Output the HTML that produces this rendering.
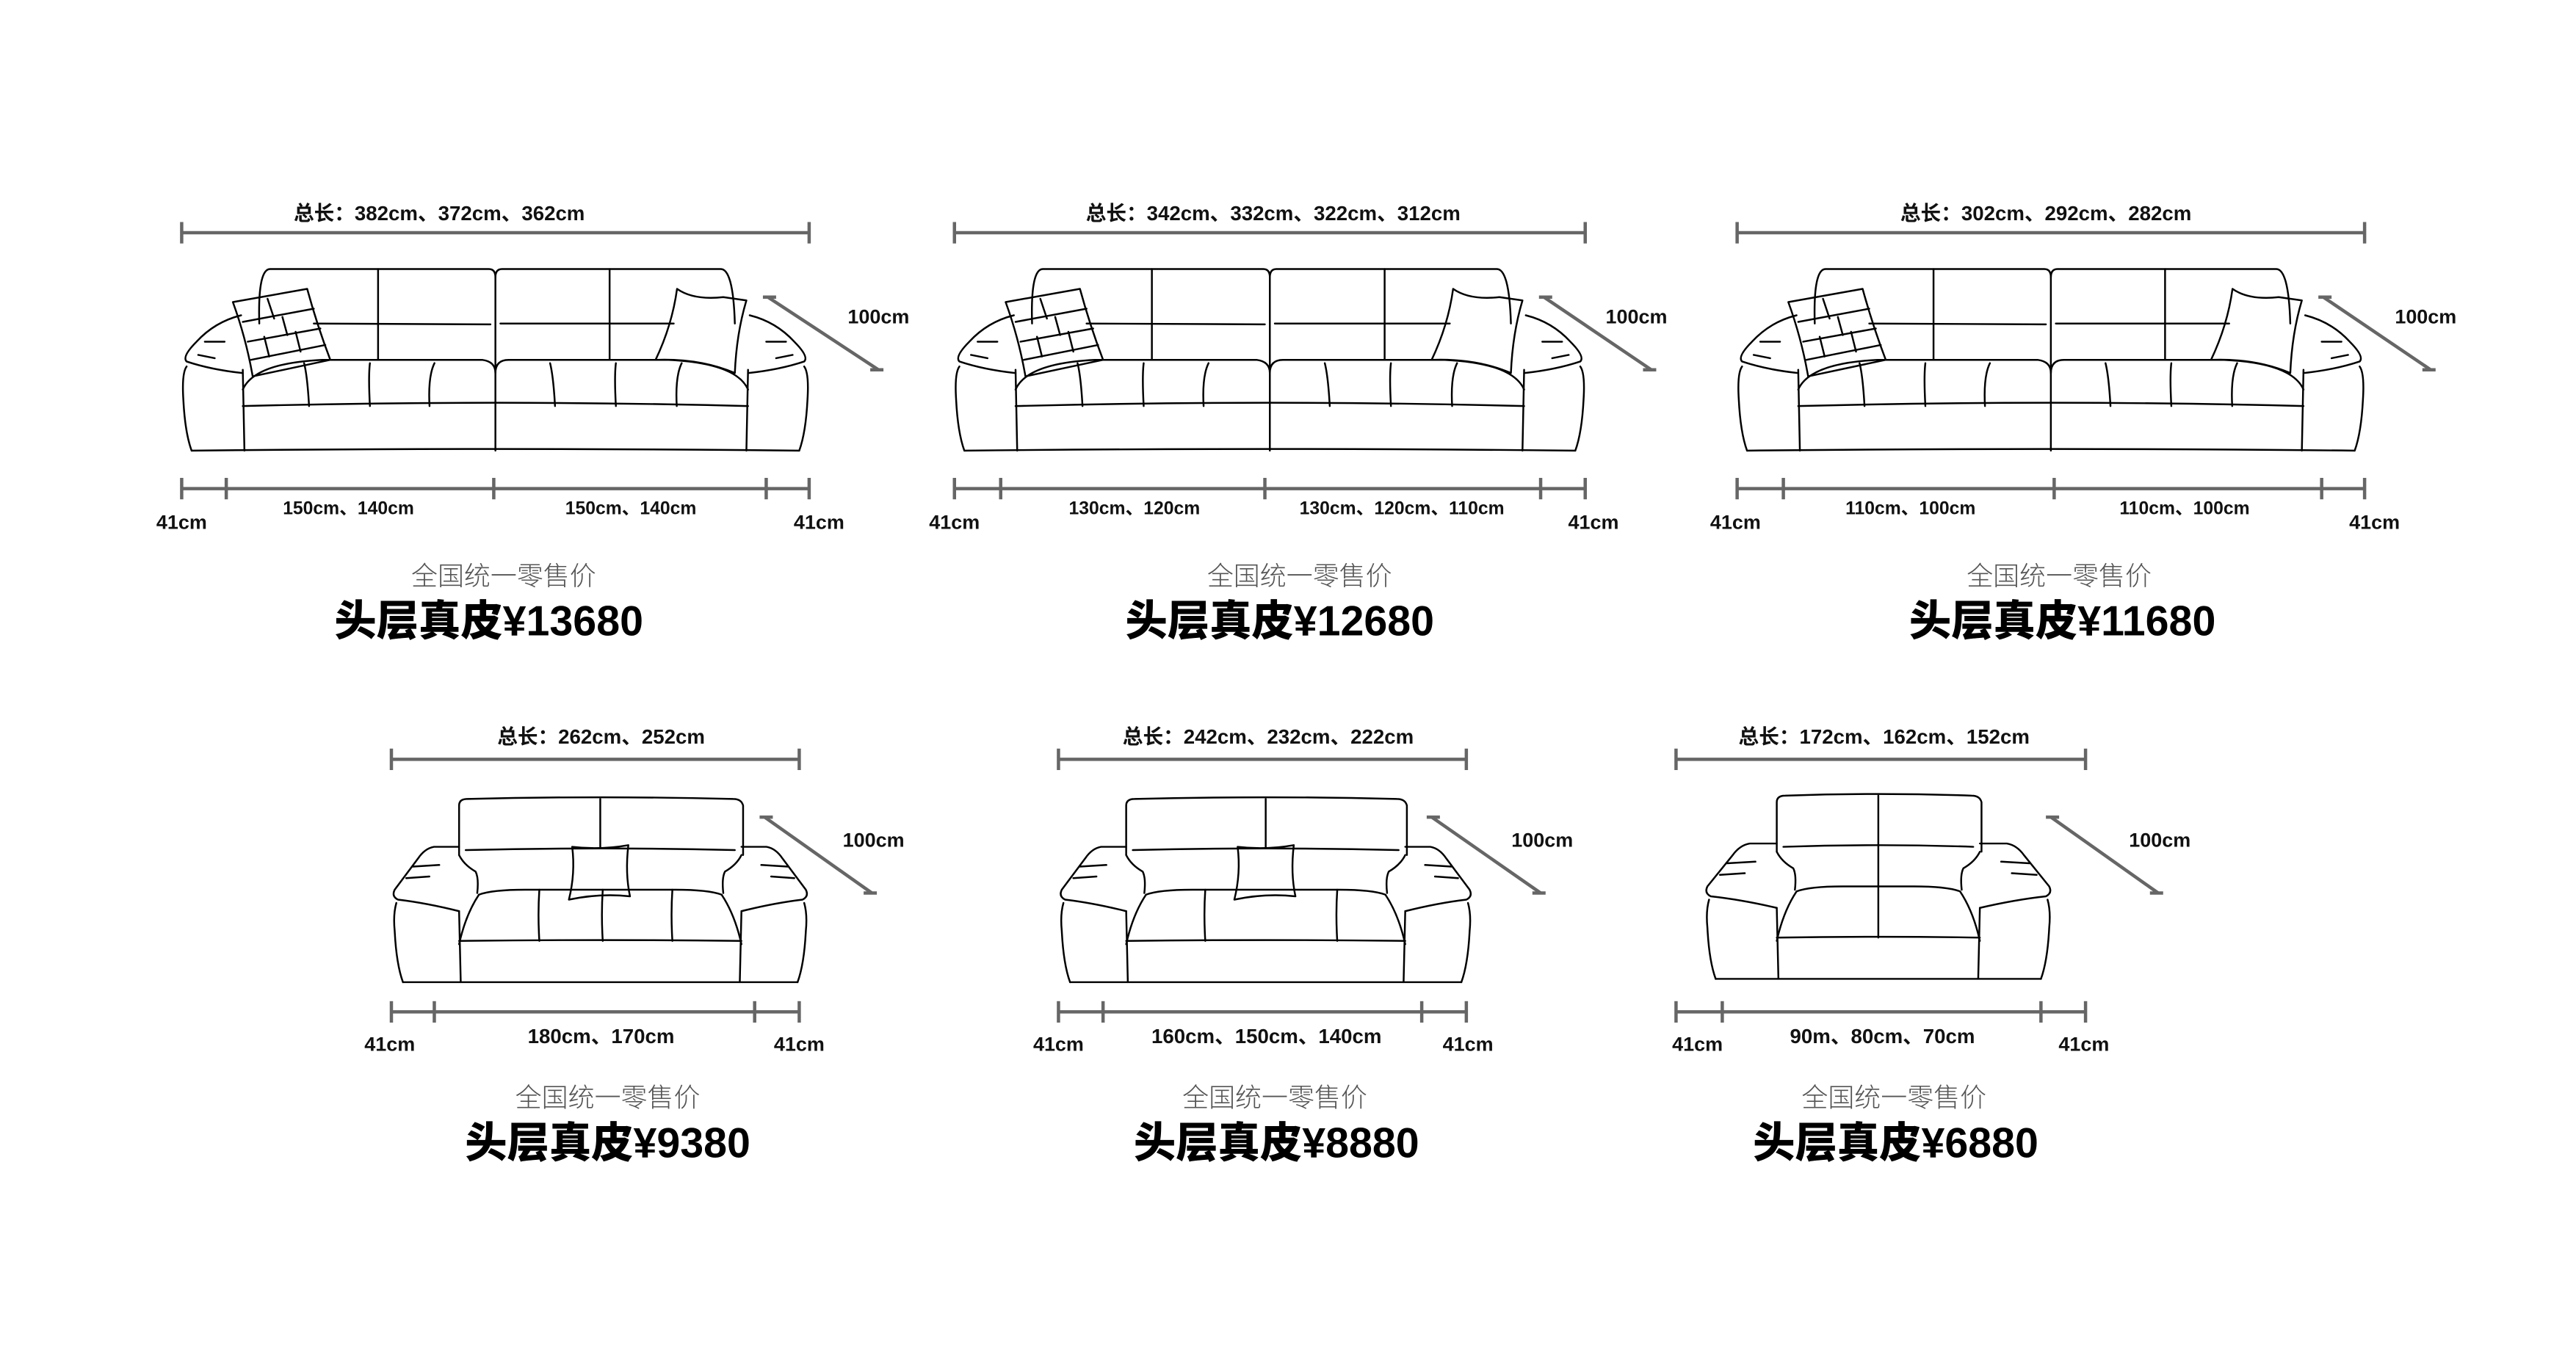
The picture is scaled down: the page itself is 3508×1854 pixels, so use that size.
<!DOCTYPE html>
<html><head><meta charset="utf-8">
<style>
html,body{margin:0;padding:0;background:#fff;}
svg{display:block;}
.t{font-family:"Liberation Sans","Noto Sans CJK SC",sans-serif;font-weight:bold;fill:#111;text-anchor:middle;}
.s{font-family:"Liberation Sans","Noto Sans CJK SC",sans-serif;font-weight:300;fill:#555;text-anchor:middle;}
.p{font-family:"Liberation Sans","Noto Sans CJK SC",sans-serif;font-weight:900;fill:#000;text-anchor:middle;}
.d{stroke:#666;stroke-width:2;fill:none;}
.k{stroke:#000;stroke-width:1.1;fill:none;stroke-linejoin:round;stroke-linecap:round;}
</style></head>
<body>
<svg id="c" width="3508" height="1854" viewBox="0 0 1560 824.5" xmlns="http://www.w3.org/2000/svg">
<rect width="1560" height="824.5" fill="#fff"/>
<g id="dims"></g>
<g id="sofas"></g>

<text class="t" x="266" y="133.5" font-size="12.3">总长：382cm、372cm、362cm</text>
<text class="t" x="771" y="133.5" font-size="12.3">总长：342cm、332cm、322cm、312cm</text>
<text class="t" x="1239" y="133.5" font-size="12.3">总长：302cm、292cm、282cm</text>
<text class="t" x="532" y="196" font-size="12">100cm</text>
<text class="t" x="991" y="196" font-size="12">100cm</text>
<text class="t" x="1469" y="196" font-size="12">100cm</text>
<text class="t" x="110" y="320.5" font-size="12">41cm</text>
<text class="t" x="211" y="311.5" font-size="11">150cm、140cm</text>
<text class="t" x="382" y="311.5" font-size="11">150cm、140cm</text>
<text class="t" x="496" y="320.5" font-size="12">41cm</text>
<text class="t" x="578" y="320.5" font-size="12">41cm</text>
<text class="t" x="687" y="311.5" font-size="11">130cm、120cm</text>
<text class="t" x="849" y="311.5" font-size="11">130cm、120cm、110cm</text>
<text class="t" x="965" y="320.5" font-size="12">41cm</text>
<text class="t" x="1051" y="320.5" font-size="12">41cm</text>
<text class="t" x="1157" y="311.5" font-size="11">110cm、100cm</text>
<text class="t" x="1323" y="311.5" font-size="11">110cm、100cm</text>
<text class="t" x="1438" y="320.5" font-size="12">41cm</text>
<text class="s" x="305" y="354.5" font-size="16">全国统一零售价</text>
<text class="s" x="787" y="354.5" font-size="16">全国统一零售价</text>
<text class="s" x="1247" y="354.5" font-size="16">全国统一零售价</text>
<text class="p" x="296" y="385" font-size="25.5">头层真皮¥13680</text>
<text class="p" x="775" y="385" font-size="25.5">头层真皮¥12680</text>
<text class="p" x="1249" y="385" font-size="25.5">头层真皮¥11680</text>

<text class="t" x="364" y="450.5" font-size="12.3">总长：262cm、252cm</text>
<text class="t" x="768" y="450.5" font-size="12.3">总长：242cm、232cm、222cm</text>
<text class="t" x="1141" y="450.5" font-size="12.3">总长：172cm、162cm、152cm</text>
<text class="t" x="529" y="513" font-size="12">100cm</text>
<text class="t" x="934" y="513" font-size="12">100cm</text>
<text class="t" x="1308" y="513" font-size="12">100cm</text>
<text class="t" x="236" y="636.5" font-size="12">41cm</text>
<text class="t" x="364" y="632" font-size="12.3">180cm、170cm</text>
<text class="t" x="484" y="636.5" font-size="12">41cm</text>
<text class="t" x="641" y="636.5" font-size="12">41cm</text>
<text class="t" x="767" y="632" font-size="12.3">160cm、150cm、140cm</text>
<text class="t" x="889" y="636.5" font-size="12">41cm</text>
<text class="t" x="1028" y="636.5" font-size="12">41cm</text>
<text class="t" x="1140" y="632" font-size="12.3">90m、80cm、70cm</text>
<text class="t" x="1262" y="636.5" font-size="12">41cm</text>
<text class="s" x="368" y="670.5" font-size="16">全国统一零售价</text>
<text class="s" x="772" y="670.5" font-size="16">全国统一零售价</text>
<text class="s" x="1147" y="670.5" font-size="16">全国统一零售价</text>
<text class="p" x="368" y="701" font-size="25.5">头层真皮¥9380</text>
<text class="p" x="773" y="701" font-size="25.5">头层真皮¥8880</text>
<text class="p" x="1148" y="701" font-size="25.5">头层真皮¥6880</text>
</svg>
<script>
(function(){
var NS="http://www.w3.org/2000/svg";
var dims=document.getElementById("dims"), so=document.getElementById("sofas");
function P(g,d,c){var p=document.createElementNS(NS,"path");p.setAttribute("d",d);p.setAttribute("class",c||"k");g.appendChild(p);}
function dim(x1,x2,y,ticks){P(dims,"M"+x1+" "+y+"H"+x2,"d");ticks.forEach(function(x){P(dims,"M"+x+" "+(y-6.5)+"V"+(y+6.5),"d");});}
function diag(x1,y1,x2,y2){P(dims,"M"+x1+" "+y1+"L"+x2+" "+y2,"d");P(dims,"M"+(x1-3)+" "+y1+"H"+(x1+5),"d");P(dims,"M"+(x2-5)+" "+y2+"H"+(x2+3),"d");}
dim(110,490,141,[110,490]);dim(110,490,296,[110,137,299,464,490]);diag(465,180,532,224);
dim(578,960,141,[578,960]);dim(578,960,296,[578,606,766,933,960]);diag(935,180,1000,224);
dim(1052,1432,141,[1052,1432]);dim(1052,1432,296,[1052,1080,1244,1406,1432]);diag(1407,180,1472,224);
dim(237,484,460,[237,484]);dim(237,484,613,[237,263,457,484]);diag(463,495,528,541);
dim(641,888,460,[641,888]);dim(641,888,613,[641,668,861,888]);diag(867,495,933,541);
dim(1015,1263,460,[1015,1263]);dim(1015,1263,613,[1015,1043,1236,1263]);diag(1242,495,1307,541);

function sofaA(L,R,T){
 var B=T+111,W=R-L,m=(L+R)/2,f=function(r){return L+W*r;};
 P(so,"M"+(L+47)+" "+(T+34)+" Q"+(L+46)+" "+T+" "+(L+54)+" "+(T+1)+" L"+(m-4)+" "+(T+1)+" Q"+m+" "+(T+1)+" "+m+" "+(T+6)+" Q"+m+" "+(T+1)+" "+(m+4)+" "+(T+1)+" L"+(R-54)+" "+(T+1)+" Q"+(R-46)+" "+T+" "+(R-45)+" "+(T+34));
 P(so,"M"+m+" "+(T+6)+"V"+B);
 P(so,"M"+(L+80)+" "+(T+34)+"L"+(m-3)+" "+(T+34.5)+"M"+(m+3)+" "+(T+34)+"L"+(R-82)+" "+(T+34));
 P(so,"M"+f(.313)+" "+(T+1)+"V"+(T+56)+"M"+f(.682)+" "+(T+1)+"V"+(T+56));
 [[1,L],[-1,R]].forEach(function(a){var s=a[0],X=a[1];function x(v){return X+s*v;}
  P(so,"M"+x(36)+" "+(T+29)+" Q"+x(20)+" "+(T+33)+" "+x(9)+" "+(T+45)+" Q"+x(0)+" "+(T+54)+" "+x(3)+" "+(T+57)+" Q"+x(18)+" "+(T+62)+" "+x(37)+" "+(T+64));
  P(so,"M"+x(3)+" "+(T+60)+" Q"+x(0)+" "+(T+64)+" "+x(1)+" "+(T+80)+" Q"+x(2)+" "+(T+100)+" "+x(6)+" "+B);
  P(so,"M"+x(37)+" "+(T+62)+" L"+x(38)+" "+B);
  P(so,"M"+x(14)+" "+(T+45)+" L"+x(26)+" "+(T+45)+"M"+x(10)+" "+(T+53)+" L"+x(20)+" "+(T+55));
 });
 P(so,"M"+(L+6)+" "+B+" Q"+m+" "+(B-2)+" "+(R-6)+" "+B);
 P(so,"M"+(L+37)+" "+(T+74)+" Q"+(L+44)+" "+(T+58)+" "+(L+85)+" "+(T+56)+" L"+(m-8)+" "+(T+56)+" Q"+m+" "+(T+57)+" "+m+" "+(T+64)+" Q"+m+" "+(T+56)+" "+(m+8)+" "+(T+56)+" L"+(R-85)+" "+(T+56)+" Q"+(R-44)+" "+(T+58)+" "+(R-37)+" "+(T+74));
 P(so,"M"+(L+37)+" "+(T+84)+" Q"+m+" "+(T+80)+" "+(R-37)+" "+(T+84));
 [.203,.300,.395,.595,.692,.789].forEach(function(r,i){var x=f(r),dx=(i<3?(i-1):(i-4))*3;P(so,"M"+(x+dx)+" "+(T+58)+" Q"+(x-1)+" "+(T+66)+" "+x+" "+(T+84));});
 P(so,"M"+(L+31)+" "+(T+21)+" L"+(L+76)+" "+(T+13)+" Q"+(L+82)+" "+(T+35)+" "+(L+90)+" "+(T+56)+" L"+(L+43)+" "+(T+66)+" Q"+(L+39)+" "+(T+43)+" "+(L+31)+" "+(T+21)+"Z");
 P(so,"M"+(L+37)+" "+(T+33)+"L"+(L+80)+" "+(T+25)+"M"+(L+40)+" "+(T+45)+"L"+(L+84)+" "+(T+37)+"M"+(L+42)+" "+(T+56)+"L"+(L+87)+" "+(T+47)+"M"+(L+52)+" "+(T+19)+"L"+(L+56)+" "+(T+31)+"M"+(L+61)+" "+(T+30)+"L"+(L+64)+" "+(T+41)+"M"+(L+50)+" "+(T+42)+"L"+(L+53)+" "+(T+54)+"M"+(L+69)+" "+(T+39)+"L"+(L+72)+" "+(T+51));
 P(so,"M"+(R-80)+" "+(T+13)+" Q"+(R-70)+" "+(T+20)+" "+(R-52)+" "+(T+18)+" L"+(R-38)+" "+(T+20)+" Q"+(R-44)+" "+(T+40)+" "+(R-45)+" "+(T+64)+" Q"+(R-66)+" "+(T+55)+" "+(R-93)+" "+(T+56)+" Q"+(R-83)+" "+(T+35)+" "+(R-80)+" "+(T+13)+"Z");
}
function sofaB(L,R,T,a,seams,pillow,fullMid){
 var B=T+111,m=(L+R)/2;
 P(so,"M"+(L+a)+" "+(T+34)+" L"+(L+a)+" "+(T+4)+" Q"+(L+a)+" "+T+" "+(L+a+5)+" "+T+" Q"+m+" "+(T-2)+" "+(R-a-5)+" "+T+" Q"+(R-a)+" "+T+" "+(R-a+1)+" "+(T+4)+" L"+(R-a+1)+" "+(T+34));
 P(so,"M"+(L+a+4)+" "+(T+31)+" Q"+m+" "+(T+29)+" "+(R-a-4)+" "+(T+31));
 P(so,"M"+m+" "+T+" V"+(fullMid?(T+86):(T+30)));
 [[1,L],[-1,R]].forEach(function(v){var s=v[0],X=v[1];function x(q){return X+s*q;}
  P(so,"M"+x(a)+" "+(T+34)+" Q"+x(a+3)+" "+(T+40)+" "+x(a+10)+" "+(T+44)+" Q"+x(a+12)+" "+(T+48)+" "+x(a+11)+" "+(T+57));
  P(so,"M"+x(a)+" "+(T+29)+" L"+x(a*0.62)+" "+(T+29)+" Q"+x(a*0.48)+" "+(T+30)+" "+x(a*0.38)+" "+(T+36)+" L"+x(1)+" "+(T+55)+" Q"+x(-1)+" "+(T+59)+" "+x(3)+" "+(T+61)+" Q"+x(a*0.5)+" "+(T+63)+" "+x(a)+" "+(T+68));
  P(so,"M"+x(2)+" "+(T+63)+" Q"+x(0)+" "+(T+70)+" "+x(1)+" "+(T+80)+" Q"+x(2)+" "+(T+100)+" "+x(6)+" "+B);
  P(so,"M"+x(a)+" "+(T+68)+" L"+x(a+1)+" "+B);
  P(so,"M"+x(a*0.3)+" "+(T+41)+" L"+x(a*0.7)+" "+(T+40)+"M"+x(a*0.2)+" "+(T+48)+" L"+x(a*0.55)+" "+(T+47));
  P(so,"M"+x(a)+" "+(T+88)+" Q"+x(a+4)+" "+(T+70)+" "+x(a+12)+" "+(T+58));
 });
 P(so,"M"+(L+6)+" "+B+" L"+(R-6)+" "+B);
 P(so,"M"+(L+a+12)+" "+(T+58)+" Q"+(L+a+20)+" "+(T+55)+" "+(L+a+40)+" "+(T+55)+" L"+(R-a-40)+" "+(T+55)+" Q"+(R-a-20)+" "+(T+55)+" "+(R-a-12)+" "+(T+58));
 P(so,"M"+(L+a)+" "+(T+86)+" Q"+m+" "+(T+85)+" "+(R-a)+" "+(T+86));
 seams.forEach(function(r){var x=L+(R-L)*r;P(so,"M"+x+" "+(T+55)+" Q"+(x-1)+" "+(T+70)+" "+(x)+" "+(T+86));});
 if(pillow){P(so,"M"+(m-17)+" "+(T+29)+" Q"+m+" "+(T+31)+" "+(m+17)+" "+(T+28)+" Q"+(m+15)+" "+(T+45)+" "+(m+18)+" "+(T+59)+" Q"+m+" "+(T+57)+" "+(m-19)+" "+(T+61)+" Q"+(m-15)+" "+(T+45)+" "+(m-17)+" "+(T+29)+"Z");}
}
sofaA(110,490,162);
sofaA(578,960,162);
sofaA(1052,1432,162);
sofaB(238,489,484,40,[.353,.506,.674],true,false);
sofaB(642,891,484,40,[.353,.674],true,false);
sofaB(1033,1242,482,43,[],false,true);
})();
</script>
</body></html>
